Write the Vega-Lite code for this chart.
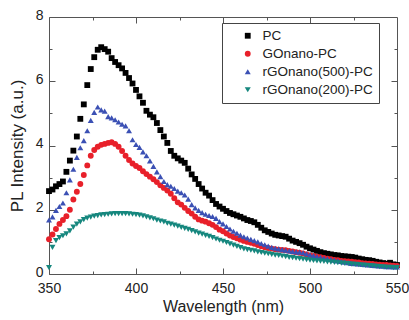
{
"$schema": "https://vega.github.io/schema/vega-lite/v6.json",
"width": 348, "height": 257,
"autosize": {"type": "none"},
"padding": {"left": 49, "top": 17, "right": 12, "bottom": 46},
"background": "white",
"config": {
  "view": {"stroke": null},
  "font": "Liberation Sans",
  "axis": {"grid": false, "domainColor": "#555", "tickColor": "#555", "labelColor": "#222", "titleColor": "#222", "labelFont": "Liberation Sans", "titleFont": "Liberation Sans", "labelFontSize": 14, "titleFontSize": 16, "titleFontWeight": "normal", "tickWidth": 1, "domainWidth": 1, "labelFlush": false}
},
"datasets": {"d": [
{"s":"PC","w":350,"v":2.58},{"s":"PC","w":352,"v":2.63},{"s":"PC","w":354,"v":2.73},{"s":"PC","w":356,"v":2.8},{"s":"PC","w":358,"v":2.88},{"s":"PC","w":360,"v":3.18},{"s":"PC","w":362,"v":3.53},{"s":"PC","w":364,"v":3.84},{"s":"PC","w":366,"v":4.28},{"s":"PC","w":368,"v":4.83},{"s":"PC","w":370,"v":5.28},{"s":"PC","w":372,"v":5.88},{"s":"PC","w":374,"v":6.38},{"s":"PC","w":376,"v":6.75},{"s":"PC","w":378,"v":6.98},{"s":"PC","w":380,"v":7.06},{"s":"PC","w":382,"v":7.0},{"s":"PC","w":384,"v":6.92},{"s":"PC","w":386,"v":6.72},{"s":"PC","w":388,"v":6.6},{"s":"PC","w":390,"v":6.5},{"s":"PC","w":392,"v":6.4},{"s":"PC","w":394,"v":6.26},{"s":"PC","w":396,"v":6.1},{"s":"PC","w":398,"v":5.93},{"s":"PC","w":400,"v":5.73},{"s":"PC","w":402,"v":5.53},{"s":"PC","w":404,"v":5.33},{"s":"PC","w":406,"v":5.08},{"s":"PC","w":408,"v":4.96},{"s":"PC","w":410,"v":4.88},{"s":"PC","w":412,"v":4.7},{"s":"PC","w":414,"v":4.48},{"s":"PC","w":416,"v":4.28},{"s":"PC","w":418,"v":4.08},{"s":"PC","w":420,"v":3.83},{"s":"PC","w":422,"v":3.68},{"s":"PC","w":424,"v":3.6},{"s":"PC","w":426,"v":3.53},{"s":"PC","w":428,"v":3.46},{"s":"PC","w":430,"v":3.28},{"s":"PC","w":432,"v":3.1},{"s":"PC","w":434,"v":2.96},{"s":"PC","w":436,"v":2.8},{"s":"PC","w":438,"v":2.66},{"s":"PC","w":440,"v":2.53},{"s":"PC","w":442,"v":2.44},{"s":"PC","w":444,"v":2.3},{"s":"PC","w":446,"v":2.18},{"s":"PC","w":448,"v":2.1},{"s":"PC","w":450,"v":2.03},{"s":"PC","w":452,"v":1.96},{"s":"PC","w":454,"v":1.9},{"s":"PC","w":456,"v":1.86},{"s":"PC","w":458,"v":1.82},{"s":"PC","w":460,"v":1.78},{"s":"PC","w":462,"v":1.73},{"s":"PC","w":464,"v":1.68},{"s":"PC","w":466,"v":1.65},{"s":"PC","w":468,"v":1.61},{"s":"PC","w":470,"v":1.53},{"s":"PC","w":472,"v":1.44},{"s":"PC","w":474,"v":1.36},{"s":"PC","w":476,"v":1.31},{"s":"PC","w":478,"v":1.26},{"s":"PC","w":480,"v":1.22},{"s":"PC","w":482,"v":1.2},{"s":"PC","w":484,"v":1.18},{"s":"PC","w":486,"v":1.16},{"s":"PC","w":488,"v":1.1},{"s":"PC","w":490,"v":1.04},{"s":"PC","w":492,"v":1.0},{"s":"PC","w":494,"v":0.96},{"s":"PC","w":496,"v":0.91},{"s":"PC","w":498,"v":0.85},{"s":"PC","w":500,"v":0.8},{"s":"PC","w":502,"v":0.76},{"s":"PC","w":504,"v":0.72},{"s":"PC","w":506,"v":0.68},{"s":"PC","w":508,"v":0.65},{"s":"PC","w":510,"v":0.63},{"s":"PC","w":512,"v":0.61},{"s":"PC","w":514,"v":0.59},{"s":"PC","w":516,"v":0.58},{"s":"PC","w":518,"v":0.56},{"s":"PC","w":520,"v":0.55},{"s":"PC","w":522,"v":0.54},{"s":"PC","w":524,"v":0.53},{"s":"PC","w":526,"v":0.51},{"s":"PC","w":528,"v":0.48},{"s":"PC","w":530,"v":0.46},{"s":"PC","w":532,"v":0.44},{"s":"PC","w":534,"v":0.43},{"s":"PC","w":536,"v":0.41},{"s":"PC","w":538,"v":0.38},{"s":"PC","w":540,"v":0.36},{"s":"PC","w":542,"v":0.34},{"s":"PC","w":544,"v":0.32},{"s":"PC","w":546,"v":0.35},{"s":"PC","w":548,"v":0.3},{"s":"PC","w":550,"v":0.28},
{"s":"GOnano-PC","w":350,"v":1.08},{"s":"GOnano-PC","w":352,"v":1.23},{"s":"GOnano-PC","w":354,"v":1.4},{"s":"GOnano-PC","w":356,"v":1.56},{"s":"GOnano-PC","w":358,"v":1.68},{"s":"GOnano-PC","w":360,"v":1.8},{"s":"GOnano-PC","w":362,"v":2.0},{"s":"GOnano-PC","w":364,"v":2.32},{"s":"GOnano-PC","w":366,"v":2.56},{"s":"GOnano-PC","w":368,"v":2.8},{"s":"GOnano-PC","w":370,"v":3.08},{"s":"GOnano-PC","w":372,"v":3.38},{"s":"GOnano-PC","w":374,"v":3.68},{"s":"GOnano-PC","w":376,"v":3.86},{"s":"GOnano-PC","w":378,"v":3.96},{"s":"GOnano-PC","w":380,"v":4.02},{"s":"GOnano-PC","w":382,"v":4.05},{"s":"GOnano-PC","w":384,"v":4.08},{"s":"GOnano-PC","w":386,"v":4.1},{"s":"GOnano-PC","w":388,"v":4.05},{"s":"GOnano-PC","w":390,"v":3.96},{"s":"GOnano-PC","w":392,"v":3.83},{"s":"GOnano-PC","w":394,"v":3.68},{"s":"GOnano-PC","w":396,"v":3.55},{"s":"GOnano-PC","w":398,"v":3.44},{"s":"GOnano-PC","w":400,"v":3.36},{"s":"GOnano-PC","w":402,"v":3.3},{"s":"GOnano-PC","w":404,"v":3.2},{"s":"GOnano-PC","w":406,"v":3.11},{"s":"GOnano-PC","w":408,"v":3.03},{"s":"GOnano-PC","w":410,"v":2.95},{"s":"GOnano-PC","w":412,"v":2.86},{"s":"GOnano-PC","w":414,"v":2.76},{"s":"GOnano-PC","w":416,"v":2.68},{"s":"GOnano-PC","w":418,"v":2.6},{"s":"GOnano-PC","w":420,"v":2.5},{"s":"GOnano-PC","w":422,"v":2.36},{"s":"GOnano-PC","w":424,"v":2.23},{"s":"GOnano-PC","w":426,"v":2.16},{"s":"GOnano-PC","w":428,"v":2.06},{"s":"GOnano-PC","w":430,"v":1.96},{"s":"GOnano-PC","w":432,"v":1.88},{"s":"GOnano-PC","w":434,"v":1.78},{"s":"GOnano-PC","w":436,"v":1.7},{"s":"GOnano-PC","w":438,"v":1.66},{"s":"GOnano-PC","w":440,"v":1.63},{"s":"GOnano-PC","w":442,"v":1.58},{"s":"GOnano-PC","w":444,"v":1.53},{"s":"GOnano-PC","w":446,"v":1.46},{"s":"GOnano-PC","w":448,"v":1.38},{"s":"GOnano-PC","w":450,"v":1.33},{"s":"GOnano-PC","w":452,"v":1.26},{"s":"GOnano-PC","w":454,"v":1.2},{"s":"GOnano-PC","w":456,"v":1.15},{"s":"GOnano-PC","w":458,"v":1.11},{"s":"GOnano-PC","w":460,"v":1.07},{"s":"GOnano-PC","w":462,"v":1.03},{"s":"GOnano-PC","w":464,"v":1.0},{"s":"GOnano-PC","w":466,"v":0.97},{"s":"GOnano-PC","w":468,"v":0.94},{"s":"GOnano-PC","w":470,"v":0.9},{"s":"GOnano-PC","w":472,"v":0.86},{"s":"GOnano-PC","w":474,"v":0.83},{"s":"GOnano-PC","w":476,"v":0.81},{"s":"GOnano-PC","w":478,"v":0.79},{"s":"GOnano-PC","w":480,"v":0.77},{"s":"GOnano-PC","w":482,"v":0.76},{"s":"GOnano-PC","w":484,"v":0.75},{"s":"GOnano-PC","w":486,"v":0.74},{"s":"GOnano-PC","w":488,"v":0.72},{"s":"GOnano-PC","w":490,"v":0.7},{"s":"GOnano-PC","w":492,"v":0.68},{"s":"GOnano-PC","w":494,"v":0.66},{"s":"GOnano-PC","w":496,"v":0.64},{"s":"GOnano-PC","w":498,"v":0.61},{"s":"GOnano-PC","w":500,"v":0.58},{"s":"GOnano-PC","w":502,"v":0.56},{"s":"GOnano-PC","w":504,"v":0.54},{"s":"GOnano-PC","w":506,"v":0.52},{"s":"GOnano-PC","w":508,"v":0.5},{"s":"GOnano-PC","w":510,"v":0.48},{"s":"GOnano-PC","w":512,"v":0.46},{"s":"GOnano-PC","w":514,"v":0.44},{"s":"GOnano-PC","w":516,"v":0.43},{"s":"GOnano-PC","w":518,"v":0.41},{"s":"GOnano-PC","w":520,"v":0.4},{"s":"GOnano-PC","w":522,"v":0.39},{"s":"GOnano-PC","w":524,"v":0.38},{"s":"GOnano-PC","w":526,"v":0.37},{"s":"GOnano-PC","w":528,"v":0.36},{"s":"GOnano-PC","w":530,"v":0.34},{"s":"GOnano-PC","w":532,"v":0.33},{"s":"GOnano-PC","w":534,"v":0.32},{"s":"GOnano-PC","w":536,"v":0.31},{"s":"GOnano-PC","w":538,"v":0.3},{"s":"GOnano-PC","w":540,"v":0.29},{"s":"GOnano-PC","w":542,"v":0.28},{"s":"GOnano-PC","w":544,"v":0.28},{"s":"GOnano-PC","w":546,"v":0.27},{"s":"GOnano-PC","w":548,"v":0.26},{"s":"GOnano-PC","w":550,"v":0.25},
{"s":"rGOnano(500)-PC","w":350,"v":1.68},{"s":"rGOnano(500)-PC","w":352,"v":1.78},{"s":"rGOnano(500)-PC","w":354,"v":1.98},{"s":"rGOnano(500)-PC","w":356,"v":2.1},{"s":"rGOnano(500)-PC","w":358,"v":2.21},{"s":"rGOnano(500)-PC","w":360,"v":2.53},{"s":"rGOnano(500)-PC","w":362,"v":2.93},{"s":"rGOnano(500)-PC","w":364,"v":3.26},{"s":"rGOnano(500)-PC","w":366,"v":3.63},{"s":"rGOnano(500)-PC","w":368,"v":3.93},{"s":"rGOnano(500)-PC","w":370,"v":4.15},{"s":"rGOnano(500)-PC","w":372,"v":4.46},{"s":"rGOnano(500)-PC","w":374,"v":4.78},{"s":"rGOnano(500)-PC","w":376,"v":5.03},{"s":"rGOnano(500)-PC","w":378,"v":5.2},{"s":"rGOnano(500)-PC","w":380,"v":5.11},{"s":"rGOnano(500)-PC","w":382,"v":5.07},{"s":"rGOnano(500)-PC","w":384,"v":4.9},{"s":"rGOnano(500)-PC","w":386,"v":4.86},{"s":"rGOnano(500)-PC","w":388,"v":4.8},{"s":"rGOnano(500)-PC","w":390,"v":4.73},{"s":"rGOnano(500)-PC","w":392,"v":4.66},{"s":"rGOnano(500)-PC","w":394,"v":4.61},{"s":"rGOnano(500)-PC","w":396,"v":4.46},{"s":"rGOnano(500)-PC","w":398,"v":4.18},{"s":"rGOnano(500)-PC","w":400,"v":4.03},{"s":"rGOnano(500)-PC","w":402,"v":3.94},{"s":"rGOnano(500)-PC","w":404,"v":3.8},{"s":"rGOnano(500)-PC","w":406,"v":3.68},{"s":"rGOnano(500)-PC","w":408,"v":3.52},{"s":"rGOnano(500)-PC","w":410,"v":3.35},{"s":"rGOnano(500)-PC","w":412,"v":3.18},{"s":"rGOnano(500)-PC","w":414,"v":3.03},{"s":"rGOnano(500)-PC","w":416,"v":2.88},{"s":"rGOnano(500)-PC","w":418,"v":2.78},{"s":"rGOnano(500)-PC","w":420,"v":2.73},{"s":"rGOnano(500)-PC","w":422,"v":2.66},{"s":"rGOnano(500)-PC","w":424,"v":2.58},{"s":"rGOnano(500)-PC","w":426,"v":2.53},{"s":"rGOnano(500)-PC","w":428,"v":2.46},{"s":"rGOnano(500)-PC","w":430,"v":2.33},{"s":"rGOnano(500)-PC","w":432,"v":2.16},{"s":"rGOnano(500)-PC","w":434,"v":2.06},{"s":"rGOnano(500)-PC","w":436,"v":1.98},{"s":"rGOnano(500)-PC","w":438,"v":1.91},{"s":"rGOnano(500)-PC","w":440,"v":1.86},{"s":"rGOnano(500)-PC","w":442,"v":1.82},{"s":"rGOnano(500)-PC","w":444,"v":1.79},{"s":"rGOnano(500)-PC","w":446,"v":1.73},{"s":"rGOnano(500)-PC","w":448,"v":1.63},{"s":"rGOnano(500)-PC","w":450,"v":1.56},{"s":"rGOnano(500)-PC","w":452,"v":1.48},{"s":"rGOnano(500)-PC","w":454,"v":1.4},{"s":"rGOnano(500)-PC","w":456,"v":1.33},{"s":"rGOnano(500)-PC","w":458,"v":1.27},{"s":"rGOnano(500)-PC","w":460,"v":1.21},{"s":"rGOnano(500)-PC","w":462,"v":1.16},{"s":"rGOnano(500)-PC","w":464,"v":1.12},{"s":"rGOnano(500)-PC","w":466,"v":1.08},{"s":"rGOnano(500)-PC","w":468,"v":1.04},{"s":"rGOnano(500)-PC","w":470,"v":1.0},{"s":"rGOnano(500)-PC","w":472,"v":0.95},{"s":"rGOnano(500)-PC","w":474,"v":0.91},{"s":"rGOnano(500)-PC","w":476,"v":0.87},{"s":"rGOnano(500)-PC","w":478,"v":0.83},{"s":"rGOnano(500)-PC","w":480,"v":0.8},{"s":"rGOnano(500)-PC","w":482,"v":0.78},{"s":"rGOnano(500)-PC","w":484,"v":0.76},{"s":"rGOnano(500)-PC","w":486,"v":0.74},{"s":"rGOnano(500)-PC","w":488,"v":0.72},{"s":"rGOnano(500)-PC","w":490,"v":0.7},{"s":"rGOnano(500)-PC","w":492,"v":0.69},{"s":"rGOnano(500)-PC","w":494,"v":0.68},{"s":"rGOnano(500)-PC","w":496,"v":0.66},{"s":"rGOnano(500)-PC","w":498,"v":0.63},{"s":"rGOnano(500)-PC","w":500,"v":0.6},{"s":"rGOnano(500)-PC","w":502,"v":0.57},{"s":"rGOnano(500)-PC","w":504,"v":0.54},{"s":"rGOnano(500)-PC","w":506,"v":0.52},{"s":"rGOnano(500)-PC","w":508,"v":0.49},{"s":"rGOnano(500)-PC","w":510,"v":0.47},{"s":"rGOnano(500)-PC","w":512,"v":0.45},{"s":"rGOnano(500)-PC","w":514,"v":0.43},{"s":"rGOnano(500)-PC","w":516,"v":0.41},{"s":"rGOnano(500)-PC","w":518,"v":0.39},{"s":"rGOnano(500)-PC","w":520,"v":0.37},{"s":"rGOnano(500)-PC","w":522,"v":0.35},{"s":"rGOnano(500)-PC","w":524,"v":0.33},{"s":"rGOnano(500)-PC","w":526,"v":0.32},{"s":"rGOnano(500)-PC","w":528,"v":0.31},{"s":"rGOnano(500)-PC","w":530,"v":0.3},{"s":"rGOnano(500)-PC","w":532,"v":0.29},{"s":"rGOnano(500)-PC","w":534,"v":0.28},{"s":"rGOnano(500)-PC","w":536,"v":0.27},{"s":"rGOnano(500)-PC","w":538,"v":0.26},{"s":"rGOnano(500)-PC","w":540,"v":0.25},{"s":"rGOnano(500)-PC","w":542,"v":0.24},{"s":"rGOnano(500)-PC","w":544,"v":0.23},{"s":"rGOnano(500)-PC","w":546,"v":0.23},{"s":"rGOnano(500)-PC","w":548,"v":0.22},{"s":"rGOnano(500)-PC","w":550,"v":0.22},
{"s":"rGOnano(200)-PC","w":350,"v":0.2},{"s":"rGOnano(200)-PC","w":352,"v":0.83},{"s":"rGOnano(200)-PC","w":354,"v":1.04},{"s":"rGOnano(200)-PC","w":356,"v":1.13},{"s":"rGOnano(200)-PC","w":358,"v":1.19},{"s":"rGOnano(200)-PC","w":360,"v":1.25},{"s":"rGOnano(200)-PC","w":362,"v":1.34},{"s":"rGOnano(200)-PC","w":364,"v":1.46},{"s":"rGOnano(200)-PC","w":366,"v":1.55},{"s":"rGOnano(200)-PC","w":368,"v":1.62},{"s":"rGOnano(200)-PC","w":370,"v":1.69},{"s":"rGOnano(200)-PC","w":372,"v":1.74},{"s":"rGOnano(200)-PC","w":374,"v":1.77},{"s":"rGOnano(200)-PC","w":376,"v":1.8},{"s":"rGOnano(200)-PC","w":378,"v":1.82},{"s":"rGOnano(200)-PC","w":380,"v":1.84},{"s":"rGOnano(200)-PC","w":382,"v":1.85},{"s":"rGOnano(200)-PC","w":384,"v":1.86},{"s":"rGOnano(200)-PC","w":386,"v":1.87},{"s":"rGOnano(200)-PC","w":388,"v":1.88},{"s":"rGOnano(200)-PC","w":390,"v":1.88},{"s":"rGOnano(200)-PC","w":392,"v":1.88},{"s":"rGOnano(200)-PC","w":394,"v":1.88},{"s":"rGOnano(200)-PC","w":396,"v":1.87},{"s":"rGOnano(200)-PC","w":398,"v":1.86},{"s":"rGOnano(200)-PC","w":400,"v":1.85},{"s":"rGOnano(200)-PC","w":402,"v":1.83},{"s":"rGOnano(200)-PC","w":404,"v":1.81},{"s":"rGOnano(200)-PC","w":406,"v":1.78},{"s":"rGOnano(200)-PC","w":408,"v":1.75},{"s":"rGOnano(200)-PC","w":410,"v":1.72},{"s":"rGOnano(200)-PC","w":412,"v":1.68},{"s":"rGOnano(200)-PC","w":414,"v":1.65},{"s":"rGOnano(200)-PC","w":416,"v":1.62},{"s":"rGOnano(200)-PC","w":418,"v":1.58},{"s":"rGOnano(200)-PC","w":420,"v":1.55},{"s":"rGOnano(200)-PC","w":422,"v":1.52},{"s":"rGOnano(200)-PC","w":424,"v":1.49},{"s":"rGOnano(200)-PC","w":426,"v":1.45},{"s":"rGOnano(200)-PC","w":428,"v":1.42},{"s":"rGOnano(200)-PC","w":430,"v":1.39},{"s":"rGOnano(200)-PC","w":432,"v":1.35},{"s":"rGOnano(200)-PC","w":434,"v":1.31},{"s":"rGOnano(200)-PC","w":436,"v":1.27},{"s":"rGOnano(200)-PC","w":438,"v":1.24},{"s":"rGOnano(200)-PC","w":440,"v":1.2},{"s":"rGOnano(200)-PC","w":442,"v":1.17},{"s":"rGOnano(200)-PC","w":444,"v":1.13},{"s":"rGOnano(200)-PC","w":446,"v":1.09},{"s":"rGOnano(200)-PC","w":448,"v":1.05},{"s":"rGOnano(200)-PC","w":450,"v":1.02},{"s":"rGOnano(200)-PC","w":452,"v":0.98},{"s":"rGOnano(200)-PC","w":454,"v":0.94},{"s":"rGOnano(200)-PC","w":456,"v":0.9},{"s":"rGOnano(200)-PC","w":458,"v":0.86},{"s":"rGOnano(200)-PC","w":460,"v":0.82},{"s":"rGOnano(200)-PC","w":462,"v":0.78},{"s":"rGOnano(200)-PC","w":464,"v":0.76},{"s":"rGOnano(200)-PC","w":466,"v":0.74},{"s":"rGOnano(200)-PC","w":468,"v":0.72},{"s":"rGOnano(200)-PC","w":470,"v":0.69},{"s":"rGOnano(200)-PC","w":472,"v":0.67},{"s":"rGOnano(200)-PC","w":474,"v":0.65},{"s":"rGOnano(200)-PC","w":476,"v":0.63},{"s":"rGOnano(200)-PC","w":478,"v":0.61},{"s":"rGOnano(200)-PC","w":480,"v":0.59},{"s":"rGOnano(200)-PC","w":482,"v":0.58},{"s":"rGOnano(200)-PC","w":484,"v":0.56},{"s":"rGOnano(200)-PC","w":486,"v":0.54},{"s":"rGOnano(200)-PC","w":488,"v":0.52},{"s":"rGOnano(200)-PC","w":490,"v":0.51},{"s":"rGOnano(200)-PC","w":492,"v":0.49},{"s":"rGOnano(200)-PC","w":494,"v":0.48},{"s":"rGOnano(200)-PC","w":496,"v":0.46},{"s":"rGOnano(200)-PC","w":498,"v":0.45},{"s":"rGOnano(200)-PC","w":500,"v":0.43},{"s":"rGOnano(200)-PC","w":502,"v":0.42},{"s":"rGOnano(200)-PC","w":504,"v":0.41},{"s":"rGOnano(200)-PC","w":506,"v":0.4},{"s":"rGOnano(200)-PC","w":508,"v":0.39},{"s":"rGOnano(200)-PC","w":510,"v":0.38},{"s":"rGOnano(200)-PC","w":512,"v":0.37},{"s":"rGOnano(200)-PC","w":514,"v":0.36},{"s":"rGOnano(200)-PC","w":516,"v":0.35},{"s":"rGOnano(200)-PC","w":518,"v":0.34},{"s":"rGOnano(200)-PC","w":520,"v":0.33},{"s":"rGOnano(200)-PC","w":522,"v":0.32},{"s":"rGOnano(200)-PC","w":524,"v":0.31},{"s":"rGOnano(200)-PC","w":526,"v":0.3},{"s":"rGOnano(200)-PC","w":528,"v":0.29},{"s":"rGOnano(200)-PC","w":530,"v":0.28},{"s":"rGOnano(200)-PC","w":532,"v":0.27},{"s":"rGOnano(200)-PC","w":534,"v":0.26},{"s":"rGOnano(200)-PC","w":536,"v":0.25},{"s":"rGOnano(200)-PC","w":538,"v":0.24},{"s":"rGOnano(200)-PC","w":540,"v":0.23},{"s":"rGOnano(200)-PC","w":542,"v":0.22},{"s":"rGOnano(200)-PC","w":544,"v":0.21},{"s":"rGOnano(200)-PC","w":546,"v":0.21},{"s":"rGOnano(200)-PC","w":548,"v":0.2},{"s":"rGOnano(200)-PC","w":550,"v":0.2}
]},
"data": {"name": "d"},
"layer": [
  {
    "mark": {"type": "point", "filled": true, "opacity": 1},
    "encoding": {
      "x": {"field": "w", "type": "quantitative", "scale": {"domain": [350, 550], "nice": false, "zero": false},
            "axis": {"orient": "bottom", "values": [350, 400, 450, 500, 550], "tickSize": -6, "labelPadding": 13, "title": "Wavelength (nm)", "titlePadding": 3}},
      "y": {"field": "v", "type": "quantitative", "scale": {"domain": [0, 8], "nice": false, "zero": false},
            "axis": {"orient": "left", "values": [0, 2, 4, 6, 8], "tickSize": -6, "labelPadding": 12, "labelOffset": -2, "title": "PL Intensity (a.u.)", "titlePadding": 9, "titleFontSize": 17}},
      "color": {"field": "s", "type": "nominal",
                "scale": {"domain": ["PC", "GOnano-PC", "rGOnano(500)-PC", "rGOnano(200)-PC"], "range": ["#000000", "#e8202a", "#3b50b4", "#16877e"]},
                "legend": {"title": null, "orient": "none", "legendX": 173, "legendY": 6, "fillColor": "white", "strokeColor": "#444", "padding": 6, "symbolSize": 40, "symbolStrokeWidth": 0, "symbolOffset": 13, "labelFontSize": 13.5, "labelFont": "Liberation Sans", "labelColor": "#222", "labelOffset": 8, "rowPadding": 3, "zindex": 2}},
      "shape": {"field": "s", "type": "nominal",
                "scale": {"domain": ["PC", "GOnano-PC", "rGOnano(500)-PC", "rGOnano(200)-PC"], "range": ["square", "circle", "triangle-up", "triangle-down"]}},
      "size": {"field": "s", "type": "nominal",
               "scale": {"domain": ["PC", "GOnano-PC", "rGOnano(500)-PC", "rGOnano(200)-PC"], "range": [34, 36, 42, 42]}, "legend": null}
    }
  },
  {
    "mark": {"type": "point", "opacity": 0},
    "encoding": {
      "x": {"field": "w", "type": "quantitative", "scale": {"domain": [350, 550], "nice": false, "zero": false},
            "axis": {"orient": "bottom", "values": [375, 425, 475, 525], "tickSize": -3, "labels": false, "domain": false, "title": null}},
      "y": {"field": "v", "type": "quantitative", "scale": {"domain": [0, 8], "nice": false, "zero": false},
            "axis": {"orient": "left", "values": [1, 3, 5, 7], "tickSize": -3, "labels": false, "domain": false, "title": null}}
    }
  },
  {
    "mark": {"type": "point", "opacity": 0},
    "encoding": {
      "x": {"field": "w", "type": "quantitative", "scale": {"domain": [350, 550], "nice": false, "zero": false},
            "axis": {"orient": "top", "values": [400, 450, 500], "tickSize": -6, "labels": false, "title": null}},
      "y": {"field": "v", "type": "quantitative", "scale": {"domain": [0, 8], "nice": false, "zero": false},
            "axis": {"orient": "right", "values": [2, 4, 6], "tickSize": -6, "labels": false, "title": null}}
    }
  },
  {
    "mark": {"type": "point"},
    "encoding": {
      "x": {"field": "w", "type": "quantitative", "scale": {"domain": [350, 550], "nice": false, "zero": false},
            "axis": {"orient": "top", "values": [375, 425, 475, 525], "tickSize": -3, "labels": false, "domain": false, "title": null}},
      "y": {"field": "v", "type": "quantitative", "scale": {"domain": [0, 8], "nice": false, "zero": false},
            "axis": {"orient": "right", "values": [1, 3, 5, 7], "tickSize": -3, "labels": false, "domain": false, "title": null}},
      "opacity": {"field": "s", "type": "nominal",
                  "scale": {"domain": ["rGOnano(200)-PC", "rGOnano(500)-PC", "GOnano-PC", "PC"], "range": [0, 0, 0, 0]},
                  "legend": {"title": null, "orient": "none", "legendX": 177, "legendY": 11, "fillColor": "black", "strokeColor": "black", "padding": 6, "symbolSize": 40, "symbolStrokeWidth": 0, "symbolOffset": 13, "symbolOpacity": 0, "labelExpr": "' '", "labelFontSize": 13.5, "labelFont": "Liberation Sans", "labelColor": "black", "labelOffset": 114.5, "rowPadding": 3, "zindex": 1}}
    }
  }
],
"resolve": {"axis": {"x": "independent", "y": "independent"}}
}
